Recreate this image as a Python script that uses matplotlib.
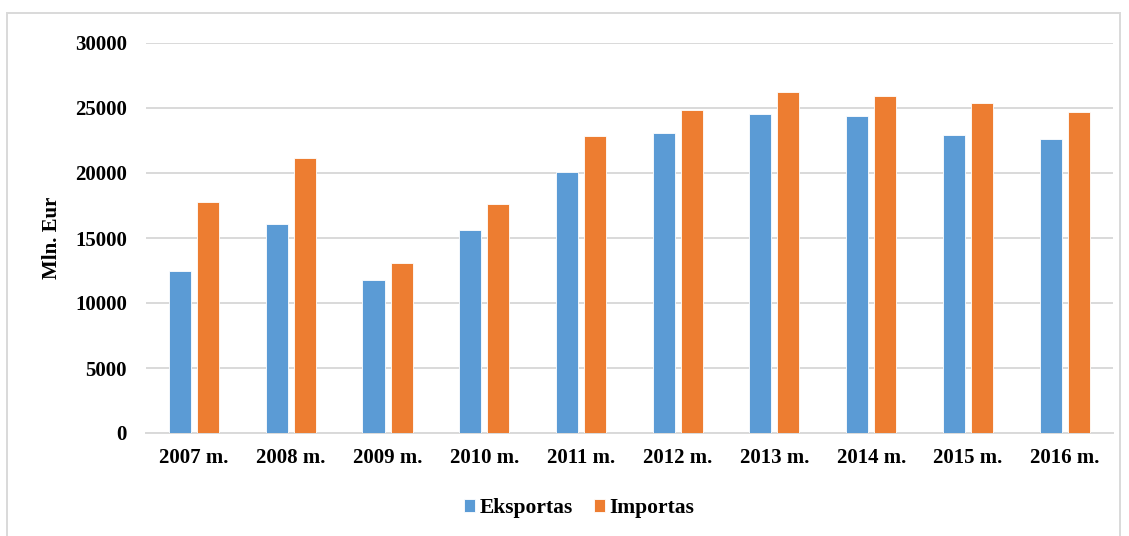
import matplotlib
matplotlib.use("Agg")
import matplotlib.pyplot as plt
from matplotlib.patches import Rectangle
import numpy as np

plt.rcParams['font.family'] = ['Liberation Serif', 'DejaVu Serif']
plt.rcParams['font.weight'] = 'bold'

years = ["2007 m.", "2008 m.", "2009 m.", "2010 m.", "2011 m.",
         "2012 m.", "2013 m.", "2014 m.", "2015 m.", "2016 m."]
eksportas = [12490, 16050, 11770, 15640, 20100, 23050, 24560, 24360, 22900, 22590]
importas = [17795, 21130, 13100, 17640, 22820, 24870, 26200, 25900, 25380, 24690]

blue = '#5B9BD5'
orange = '#ED7D31'
grid_c = '#D9D9D9'


def main():
    fig = plt.figure(figsize=(11.29, 5.36), dpi=100)
    ax = fig.add_axes([145.7 / 1129, 103 / 536, 967.3 / 1129, 390 / 536])

    x = np.arange(len(years))
    w = 0.2275
    off = 0.145
    ax.bar(x - off, eksportas, w, color=blue, edgecolor='white', linewidth=0.6,
           label='Eksportas', zorder=3)
    ax.bar(x + off, importas, w, color=orange, edgecolor='white', linewidth=0.6,
           label='Importas', zorder=3)

    ax.set_xlim(-0.5, len(years) - 0.5)
    ax.set_ylim(0, 30000)
    ax.set_yticks(range(0, 30001, 5000))
    ax.set_xticks(x)
    ax.set_xticklabels(years)
    ax.tick_params(axis='both', length=0, labelsize=15)
    ax.tick_params(axis='y', pad=13.5)
    ax.tick_params(axis='x', pad=11)
    ax.yaxis.grid(True, color=grid_c, linewidth=1.4, zorder=0)
    for s in ['top', 'right', 'left']:
        ax.spines[s].set_visible(False)
    ax.spines['bottom'].set_color(grid_c)
    ax.spines['bottom'].set_linewidth(1.4)
    ax.set_ylabel("Mln. Eur", fontsize=15, fontweight='bold')
    ax.yaxis.set_label_coords(-83.7 / 967.3, 0.5)

    fig.legend(*ax.get_legend_handles_labels(), loc='center',
               bbox_to_anchor=(579 / 1129, 1 - 508 / 536), ncol=2,
               frameon=False, fontsize=15.5, handlelength=0.52, handleheight=0.52,
               handletextpad=0.2, columnspacing=0.98)

    fig.patches.append(Rectangle((7 / 1129, -0.01), 1113 / 1129, 1 - 13 / 536 + 0.01,
                                 transform=fig.transFigure, fill=False,
                                 edgecolor=grid_c, linewidth=1.4))

    fig.savefig("out.png", dpi=100)


if __name__ == "__main__":
    main()
